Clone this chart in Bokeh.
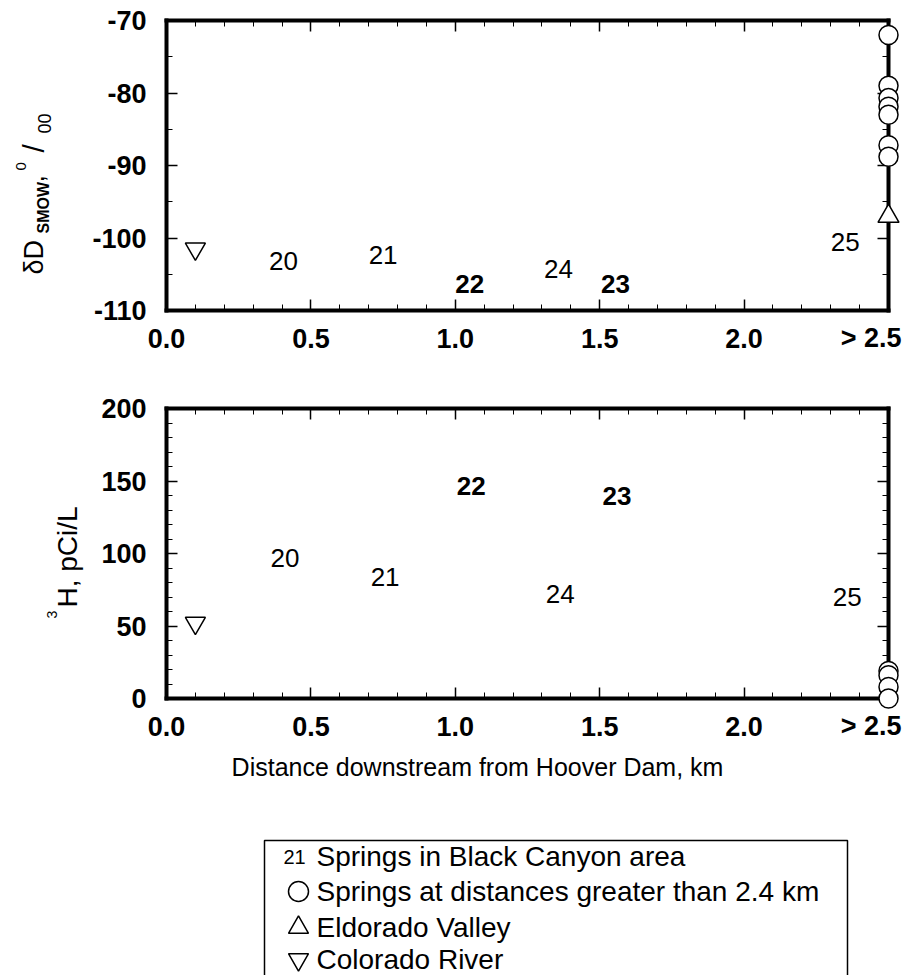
import math
from bokeh.plotting import figure
from bokeh.models import (Range1d, FixedTicker, LinearAxis,
                          ColumnDataSource, NumeralTickFormatter)
from bokeh.layouts import column
from bokeh.core.properties import value
from bokeh.embed import file_html
from bokeh.resources import INLINE

FONT = "Liberation Sans"

# ---------------- data ----------------
spring_ids = ["20", "21", "22", "23", "24", "25"]
spring_weight = ["normal", "normal", "bold", "bold", "normal", "normal"]
spring_dist_top = [0.405, 0.75, 1.05, 1.555, 1.357, 2.35]
spring_dD = [-103.2, -102.3, -106.4, -106.4, -104.3, -100.5]
spring_dist_bot = [0.41, 0.757, 1.055, 1.56, 1.363, 2.357]
spring_3H = [96.9, 83.7, 146.7, 139.8, 72.0, 70.1]

river_dist = [0.1]
river_dD = [-101.5]
river_3H = [52.0]

far_dD = [-72.0, -79.0, -80.7, -81.9, -83.0, -87.2, -88.8]
far_3H = [19.0, 16.0, 8.0, 0.0]
far_dist = 2.5

eldorado_dist = [2.5]
eldorado_dD = [-97.0]

x_ticks = [0.0, 0.5, 1.0, 1.5, 2.0]
x_minor = [0.1, 0.2, 0.3, 0.4, 0.6, 0.7, 0.8, 0.9, 1.1, 1.2, 1.3, 1.4,
           1.6, 1.7, 1.8, 1.9, 2.1, 2.2, 2.3, 2.4]
x_last_label = "> 2.5"
dD_ticks = [-110, -100, -90, -80, -70]
dD_minor = [-105, -95, -85, -75]
H_ticks = [0, 50, 100, 150, 200]
H_minor = [10, 20, 30, 40, 60, 70, 80, 90, 110, 120, 130, 140,
           160, 170, 180, 190]

x_title = "Distance downstream from Hoover Dam, km"
legend_labels = ["Springs in Black Canyon area",
                 "Springs at distances greater than 2.4 km",
                 "Eldorado Valley",
                 "Colorado River"]
legend_markers = ["circle", "triangle", "inverted_triangle"]

# ---------------- layout (pixels) ----------------
W = 905
FL, FR = 166, 888            # frame left / right (page px)
T1, B1 = 20, 310             # top panel frame
T2, B2 = 408, 698            # bottom panel frame
TICK_SIZE = "27px"


def sx(px):
    return (px - FL) / (FR - FL) * 2.5


def sy1(py):
    return -70 - (py - T1) / (B1 - T1) * 40


def sy2(py):
    return 200 - (py - T2) / (B2 - T2) * 200


def style_axis(ax, labels):
    ax.axis_line_width = 4
    ax.axis_line_color = "black"
    ax.axis_line_cap = "square"
    ax.major_tick_in = 11
    ax.major_tick_out = 0
    ax.minor_tick_in = 6
    ax.minor_tick_out = 0
    ax.major_tick_line_width = 1.5
    ax.minor_tick_line_width = 1
    ax.major_tick_line_color = "black"
    ax.minor_tick_line_color = "black"
    if labels:
        ax.major_label_text_font = FONT
        ax.major_label_text_font_size = TICK_SIZE
        ax.major_label_text_font_style = "bold"
        ax.major_label_text_color = "black"
    else:
        ax.major_label_text_font_size = "0px"
        ax.major_label_text_color = None
        ax.major_label_standoff = 0


def make_fig(height, btop, bbot, yr, yt, ym):
    p = figure(width=W, height=height, output_backend="svg",
               toolbar_location=None, x_range=Range1d(0, 2.5),
               y_range=Range1d(*yr), x_axis_location=None,
               y_axis_location=None, min_border_left=FL,
               min_border_right=W - FR, min_border_top=btop,
               min_border_bottom=bbot)
    p.outline_line_color = None
    p.grid.grid_line_color = None
    xt = FixedTicker(ticks=x_ticks, minor_ticks=x_minor)
    xt2 = FixedTicker(ticks=x_ticks + [2.5], minor_ticks=x_minor)
    ytk = FixedTicker(ticks=yt, minor_ticks=ym)
    bottom = LinearAxis(ticker=xt, formatter=NumeralTickFormatter(format="0.0"))
    style_axis(bottom, True)
    bottom.major_label_standoff = 18
    top = LinearAxis(ticker=xt2)
    style_axis(top, False)
    left = LinearAxis(ticker=ytk, formatter=NumeralTickFormatter(format="0"))
    style_axis(left, True)
    left.major_label_standoff = 20
    right = LinearAxis(ticker=ytk)
    style_axis(right, False)
    p.add_layout(bottom, "below")
    p.add_layout(left, "left")
    p.add_layout(top, "above")
    p.add_layout(right, "right")
    return p


def free_text(p, x, y, txt, size, style="normal", angle=0.0, align="left"):
    p.text(x=[x], y=[y], text=[txt], angle=angle, text_font=value(FONT),
           text_font_size=value(size), text_font_style=style,
           text_align=align, text_baseline="middle", text_color="black",
           level="annotation")


A = math.pi / 2
MARK = dict(fill_color="white", line_color="black", line_width=1.5,
            level="annotation")

# ---------------- top panel ----------------
p1 = make_fig(360, T1, 360 - B1, (-110, -70), dD_ticks, dD_minor)
s1 = ColumnDataSource(dict(x=spring_dist_top, y=spring_dD, t=spring_ids,
                           w=spring_weight))
p1.text(x="x", y="y", text="t", source=s1, text_font=value(FONT),
        text_font_size=value("26px"), text_font_style="w",
        text_align="center", text_baseline="middle", text_color="black")
p1.scatter(x=river_dist, y=river_dD, marker="inverted_triangle", size=20,
           **MARK)
p1.scatter(x=[far_dist] * len(far_dD), y=far_dD, marker="circle", size=19,
           **MARK)
p1.scatter(x=eldorado_dist, y=eldorado_dD, marker="triangle", size=21,
           **MARK)
free_text(p1, sx(901), sy1(B1 + 27), x_last_label, TICK_SIZE, "bold",
          align="right")
# y title: delta D SMOW, per mil  (centre line x, start y)
for txt, px, py, fs, st in [("δD", 33, 274, "27px", "normal"),
                            ("SMOW", 43, 233, "16px", "bold"),
                            (",", 34, 182, "27px", "normal"),
                            ("0", 20, 170, "15px", "normal"),
                            ("/", 33, 152, "30px", "normal"),
                            ("00", 44, 133, "18px", "normal")]:
    free_text(p1, sx(px), sy1(py), txt, fs, st, angle=A)

# ---------------- bottom panel ----------------
p2 = make_fig(440, T2 - 360, 800 - B2, (0, 200), H_ticks, H_minor)
s2 = ColumnDataSource(dict(x=spring_dist_bot, y=spring_3H, t=spring_ids,
                           w=spring_weight))
p2.text(x="x", y="y", text="t", source=s2, text_font=value(FONT),
        text_font_size=value("26px"), text_font_style="w",
        text_align="center", text_baseline="middle", text_color="black")
p2.scatter(x=river_dist, y=river_3H, marker="inverted_triangle", size=20,
           **MARK)
p2.scatter(x=[far_dist] * len(far_3H), y=far_3H, marker="circle", size=19,
           **MARK)
free_text(p2, sx(901), sy2(B2 + 27), x_last_label, TICK_SIZE, "bold",
          align="right")
free_text(p2, sx(51), sy2(618), "3", "14px", angle=A)
free_text(p2, sx(67), sy2(607), "H, pCi/L", "28px", angle=A)
free_text(p2, sx(477), sy2(766), x_title, "25px", align="center")

# ---------------- legend box ----------------
p3 = figure(width=W, height=175, output_backend="svg",
            toolbar_location=None, x_range=Range1d(FL, FR),
            y_range=Range1d(975, 836), x_axis_location=None,
            y_axis_location=None, min_border_left=FL,
            min_border_right=W - FR, min_border_top=36, min_border_bottom=0)
p3.outline_line_color = None
p3.grid.grid_line_color = None
p3.quad(left=[264], right=[847], top=[840], bottom=[990],
        fill_color=None, line_color="black", line_width=1.5)
row_y = [856, 891, 927, 959]
p3.text(x=[294], y=[row_y[0]], text=["21"], text_font=value(FONT),
        text_font_size=value("20px"), text_align="center",
        text_baseline="middle", text_color="black")
for yy, mk in zip(row_y[1:], legend_markers):
    p3.scatter(x=[298], y=[yy], marker=mk, size=20, fill_color="white",
               line_color="black", line_width=1.5)
p3.text(x=[316] * 4, y=row_y, text=legend_labels, text_font=value(FONT),
        text_font_size=value("28px"), text_align="left",
        text_baseline="middle", text_color="black")

layout = column(p1, p2, p3)
open("out.html", "w").write(file_html(layout, INLINE))
